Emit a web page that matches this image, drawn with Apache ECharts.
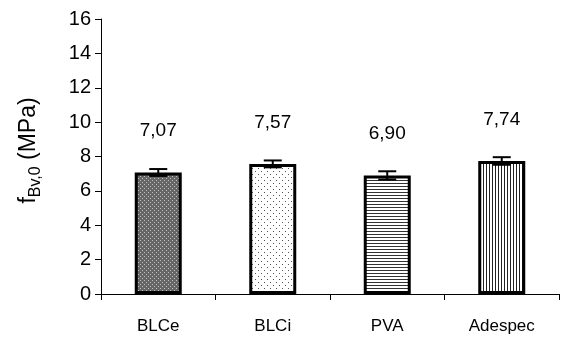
<!DOCTYPE html>
<html>
<head>
<meta charset="utf-8">
<script src="https://cdn.jsdelivr.net/npm/echarts@6/dist/echarts.min.js"></script>
<style>html,body{margin:0;padding:0;background:#fff;}#c{width:561px;height:337px;}</style>
</head>
<body>
<div id="c"></div>
<script>
var categories = ['BLCe', 'BLCi', 'PVA', 'Adespec'];
var values = [7.07, 7.57, 6.90, 7.74];
var errors = [0.20, 0.20, 0.24, 0.22];
var yTicks = [0, 2, 4, 6, 8, 10, 12, 14, 16];

function makePattern(w, h, bg, fg, pts) {
  var c = document.createElement('canvas');
  c.width = w; c.height = h;
  var ctx = c.getContext('2d');
  ctx.fillStyle = bg; ctx.fillRect(0, 0, w, h);
  ctx.fillStyle = fg;
  pts.forEach(function (p) { ctx.fillRect(p[0], p[1], p[2] || 1, p[3] || 1); });
  return { image: c, repeat: 'repeat' };
}
var patterns = [
  makePattern(4, 4, '#666666', '#c0c0c0', [[0, 0], [2, 2]]),
  makePattern(6, 6, '#ffffff', '#555555', [[0, 0], [3, 3]]),
  makePattern(1, 3, '#ffffff', '#333333', [[0, 0]]),
  makePattern(3, 1, '#ffffff', '#222222', [[0, 0]])
];

var FONT = 'Liberation Sans, Arial, sans-serif';
var chart = echarts.init(document.getElementById('c'), null, { renderer: 'canvas' });
chart.setOption({
  animation: false,
  backgroundColor: '#fff',
  grid: { left: 101, right: 2, top: 19, bottom: 43 },
  xAxis: {
    type: 'category',
    data: categories,
    axisLine: { lineStyle: { color: '#000', width: 1 } },
    axisTick: { show: true, length: 6, lineStyle: { color: '#000' } },
    axisLabel: { color: '#000', fontSize: 17, fontFamily: FONT, margin: 24 }
  },
  yAxis: {
    type: 'value',
    min: yTicks[0], max: yTicks[yTicks.length - 1], interval: 2,
    splitLine: { show: false },
    axisLine: { show: true, lineStyle: { color: '#000', width: 1 } },
    axisTick: { show: true, length: 6, lineStyle: { color: '#000' } },
    axisLabel: { color: '#000', fontSize: 20, fontFamily: FONT, margin: 10 },
    name: '{a|f}{b|Bv,0}{a| (MPa)}',
    nameLocation: 'middle',
    nameRotate: 90,
    nameGap: 57,
    nameTextStyle: {
      padding: [0, 0, 0, 12],
      rich: {
        a: { fontSize: 23, fontFamily: FONT, color: '#000', lineHeight: 31, verticalAlign: 'middle' },
        b: { fontSize: 16, fontFamily: FONT, color: '#000', lineHeight: 16, verticalAlign: 'bottom' }
      }
    }
  },
  series: [
    {
      type: 'bar',
      barWidth: 47,
      data: values.map(function (v, i) {
        return { value: v, itemStyle: { color: patterns[i], borderColor: '#000', borderWidth: 3 } };
      }),
      label: {
        show: true, position: 'top', distance: 32,
        color: '#000', fontSize: 19, fontFamily: FONT,
        formatter: function (p) { return p.value.toFixed(2).replace('.', ','); }
      },
      z: 2
    },
    {
      type: 'custom',
      data: values.map(function (v, i) { return [i, v - errors[i], v + errors[i]]; }),
      renderItem: function (params, api) {
        var lo = api.coord([api.value(0), api.value(1)]);
        var hi = api.coord([api.value(0), api.value(2)]);
        var hw = 9;
        var st = { stroke: '#000', lineWidth: 2 };
        return {
          type: 'group',
          children: [
            { type: 'line', shape: { x1: lo[0], y1: lo[1], x2: hi[0], y2: hi[1] }, style: st },
            { type: 'line', shape: { x1: hi[0] - hw, y1: hi[1], x2: hi[0] + hw, y2: hi[1] }, style: st },
            { type: 'line', shape: { x1: lo[0] - hw, y1: lo[1], x2: lo[0] + hw, y2: lo[1] }, style: st }
          ]
        };
      },
      z: 3
    }
  ]
});
</script>
</body>
</html>
